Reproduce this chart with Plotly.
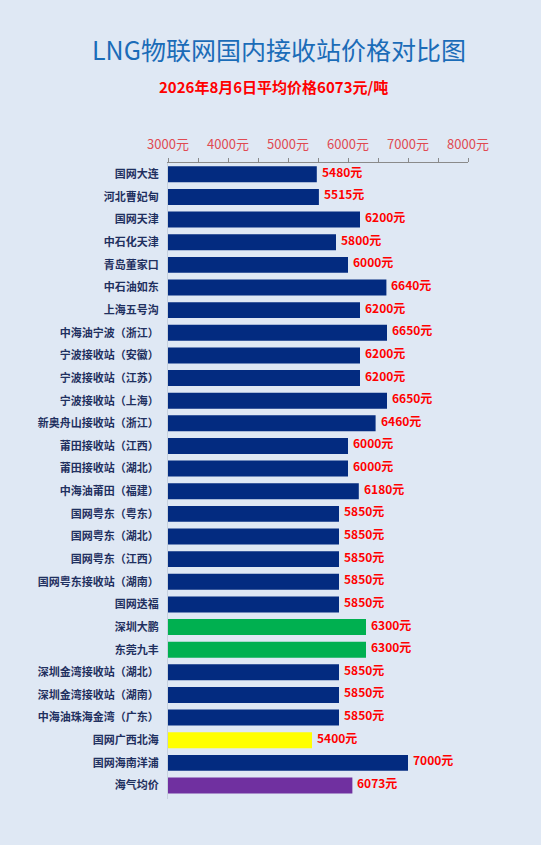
import plotly.graph_objects as go

stations = [
    "国网大连", "河北曹妃甸", "国网天津", "中石化天津", "青岛董家口", "中石油如东",
    "上海五号沟", "中海油宁波（浙江）", "宁波接收站（安徽）", "宁波接收站（江苏）",
    "宁波接收站（上海）", "新奥舟山接收站（浙江）", "莆田接收站（江西）", "莆田接收站（湖北）",
    "中海油莆田（福建）", "国网粤东（粤东）", "国网粤东（湖北）", "国网粤东（江西）",
    "国网粤东接收站（湖南）", "国网迭福", "深圳大鹏", "东莞九丰", "深圳金湾接收站（湖北）",
    "深圳金湾接收站（湖南）", "中海油珠海金湾（广东）", "国网广西北海", "国网海南洋浦", "海气均价",
]
prices = [
    5480, 5515, 6200, 5800, 6000, 6640, 6200, 6650, 6200, 6200, 6650, 6460, 6000, 6000,
    6180, 5850, 5850, 5850, 5850, 5850, 6300, 6300, 5850, 5850, 5850, 5400, 7000, 6073,
]
bar_colors = (
    ["#032b80"] * 20 + ["#00b050", "#00b050"] + ["#032b80"] * 3
    + ["#ffff00", "#032b80", "#7030a0"]
)
tick_vals = [3000, 3500, 4000, 4500, 5000, 5500, 6000, 6500, 7000, 7500, 8000]
tick_text = ["3000元", "", "4000元", "", "5000元", "", "6000元", "", "7000元", "", "8000元"]

title_text = "LNG物联网国内接收站价格对比图"
subtitle_text = "2026年8月6日平均价格6073元/吨"

FONT = "Noto Sans CJK SC"
BG = "#dfe8f4"

fig = go.Figure(
    go.Bar(
        x=prices,
        y=stations,
        orientation="h",
        marker=dict(color=bar_colors, line=dict(width=0)),
        hoverinfo="skip",
    )
)

annotations = [
    dict(
        text=title_text, xref="paper", yref="paper", x=0.37, y=1.0,
        yshift=114, xanchor="center", yanchor="middle", showarrow=False,
        font=dict(family=FONT, size=25, color="#1b6cb8"),
    ),
    dict(
        text=subtitle_text, xref="paper", yref="paper", x=0.35, y=1.0,
        yshift=77, xanchor="center", yanchor="middle", showarrow=False,
        font=dict(family=FONT, size=15, color="#ff0000", weight="bold"),
    ),
]
for s, p in zip(stations, prices):
    annotations.append(
        dict(
            x=p, y=s, xref="x", yref="y", text=f"{p}元", showarrow=False,
            xanchor="left", yanchor="middle", xshift=3, yshift=3,
            font=dict(family=FONT, size=12, color="#ff0000", weight="bold"),
        )
    )

fig.update_layout(
    width=541,
    height=845,
    paper_bgcolor=BG,
    plot_bgcolor=BG,
    margin=dict(l=168, r=73, t=163, b=46),
    bargap=0.295,
    showlegend=False,
    font=dict(family=FONT),
    annotations=annotations,
)

fig.update_xaxes(
    side="top",
    range=[3000, 8000],
    tickvals=tick_vals,
    ticktext=tick_text,
    ticks="outside",
    ticklen=4,
    tickcolor="#8a8a8a",
    showline=True,
    linecolor="#8a8a8a",
    linewidth=1,
    showgrid=False,
    zeroline=False,
    tickfont=dict(family=FONT, size=13, color="#e04a52"),
    ticklabelstandoff=4,
    fixedrange=True,
)
fig.update_yaxes(
    autorange="reversed",
    showline=True,
    linecolor="#c7d1de",
    linewidth=1,
    showgrid=False,
    ticks="",
    tickfont=dict(family=FONT, size=11, color="#1f3060", weight="bold"),
    ticklabelstandoff=6,
    fixedrange=True,
)

fig.write_html(
    "out.html",
    config={"displayModeBar": False},
    post_script=(
        "document.body.style.margin='0';"
        "document.body.style.background='" + BG + "';"
    ),
)
